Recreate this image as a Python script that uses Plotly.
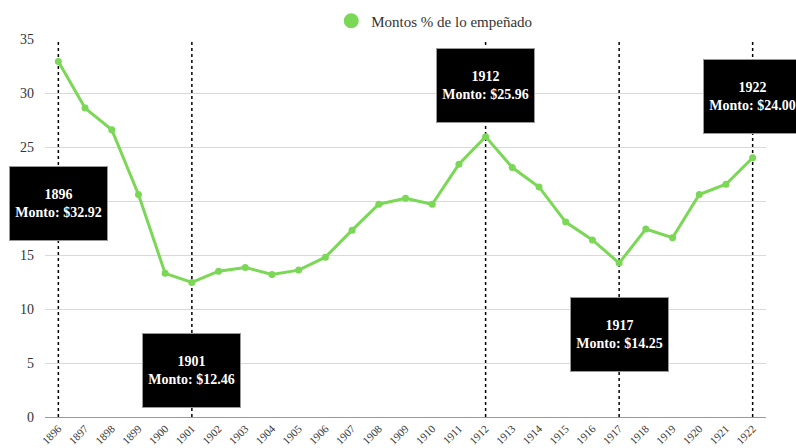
import plotly.graph_objects as go

years = list(range(1896, 1923))
year_labels = [str(y) for y in years]
montos = [32.92, 28.6, 26.6, 20.6, 13.3, 12.46, 13.5, 13.85, 13.2, 13.6, 14.8, 17.3,
          19.7, 20.25, 19.7, 23.4, 25.96, 23.1, 21.3, 18.05, 16.4, 14.25, 17.4, 16.6,
          20.6, 21.55, 24.00]
highlight_years = [1896, 1901, 1912, 1917, 1922]
highlight_values = [32.92, 12.46, 25.96, 14.25, 24.00]
label_y = [19.8, 4.3, 30.7, 7.6, 29.7]
series_name = "Montos % de lo empeñado"

GREEN = "#7ad856"
FONT = "Liberation Serif"

fig = go.Figure()
fig.add_trace(go.Scatter(
    x=years, y=montos, mode="lines+markers",
    line=dict(color=GREEN, width=3),
    marker=dict(color=GREEN, size=7),
    showlegend=False, hoverinfo="x+y"))
fig.add_trace(go.Scatter(
    x=[None], y=[None], mode="markers", name=series_name,
    marker=dict(color=GREEN, size=15), showlegend=True))

shapes = []
for yr in highlight_years:
    shapes.append(dict(type="line", xref="x", yref="y", x0=yr, x1=yr, y0=0, y1=35,
                       line=dict(color="black", width=1.5, dash="dot"), layer="below"))

annotations = []
for yr, v, ly in zip(highlight_years, highlight_values, label_y):
    annotations.append(dict(
        x=yr, y=ly, xref="x", yref="y", showarrow=False,
        text=f"<b>{yr}</b><br><b>Monto: &#36;{v:.2f}</b>",
        font=dict(family=FONT, size=14, color="white"),
        bgcolor="black", bordercolor="#999999", borderwidth=1, borderpad=2,
        width=93, height=69, align="center", valign="middle",
        xanchor="center", yanchor="middle"))

fig.update_layout(
    width=796, height=448,
    margin=dict(l=45, r=30, t=39, b=31),
    paper_bgcolor="white", plot_bgcolor="white",
    font=dict(family=FONT, size=13, color="#333333"),
    shapes=shapes, annotations=annotations,
    legend=dict(orientation="h", x=0.397, y=0.99, xanchor="left", yanchor="top",
                yref="container", font=dict(family=FONT, size=15, color="#333333"),
                bgcolor="rgba(0,0,0,0)"),
    xaxis=dict(range=[1895.5, 1922.5], tickvals=years, ticktext=year_labels,
               tickangle=-45,
               tickfont=dict(family=FONT, size=11, color="#333333"),
               showgrid=False, zeroline=False, showline=True, linecolor="#999999",
               linewidth=1, ticks="", automargin=False),
    yaxis=dict(range=[0, 35], dtick=5, showgrid=True, gridcolor="#d9d9d9",
               gridwidth=1, zeroline=False, ticks="", ticklabelstandoff=10,
               tickfont=dict(family=FONT, size=14, color="#333333"),
               automargin=False),
)

fig.write_html("out.html", config={"displayModeBar": False},
               post_script="document.body.style.margin='0';")
